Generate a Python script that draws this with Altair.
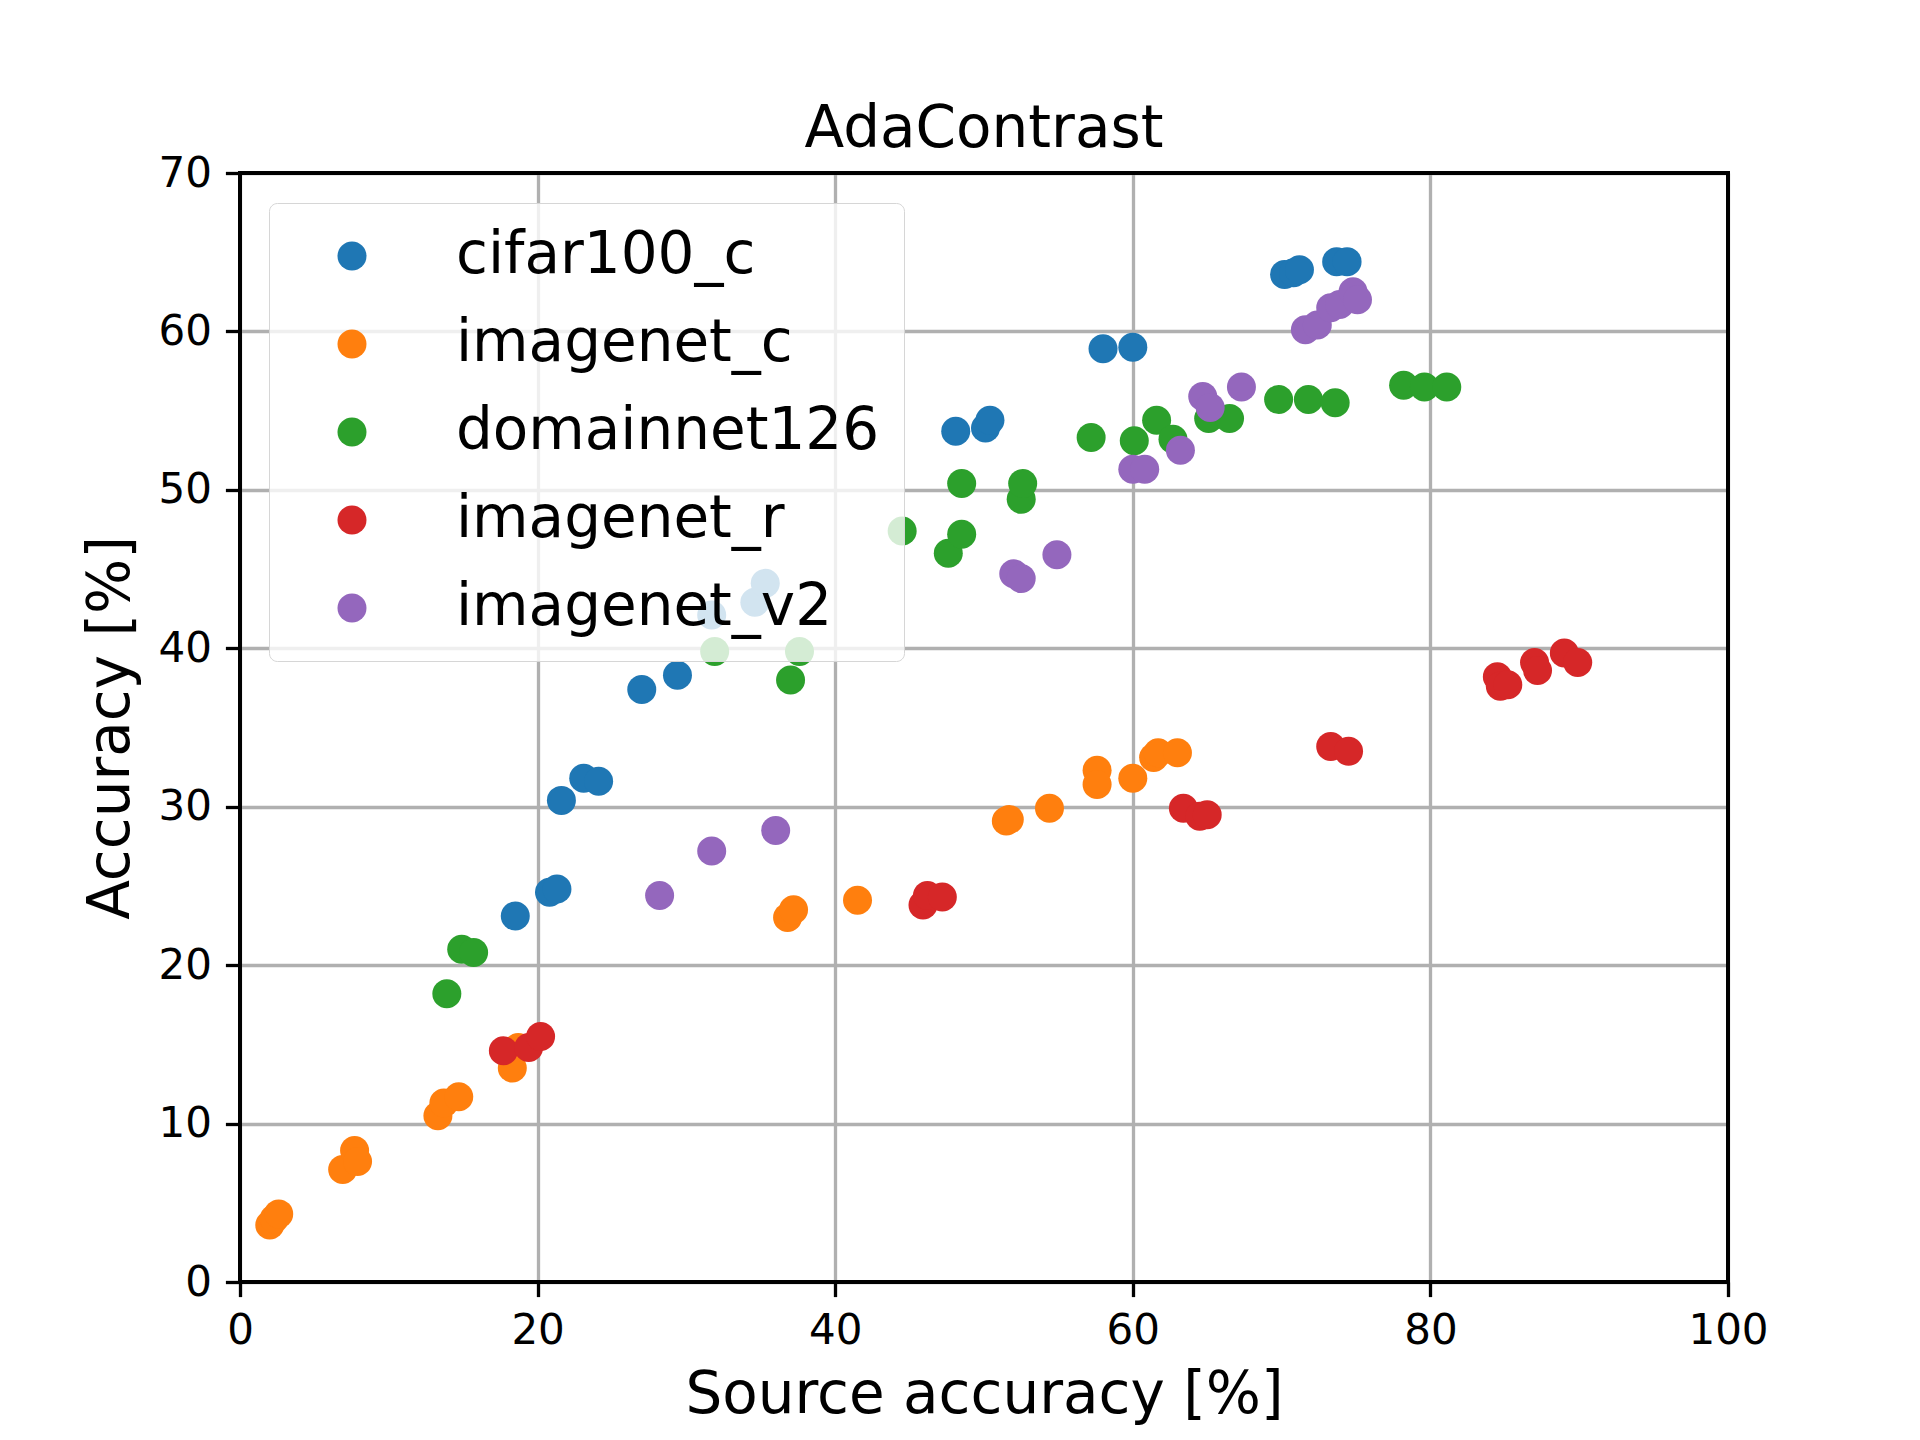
import altair as alt
import pandas as pd

series_names = ["cifar100_c", "imagenet_c", "domainnet126", "imagenet_r", "imagenet_v2"]
series_colors = ["#1f77b4", "#ff7f0e", "#2ca02c", "#d62728", "#9467bd"]

cifar100_c_x = [18.5, 20.8, 21.3, 21.6, 23.1, 24.1, 27.0, 29.4, 31.7, 34.6, 35.3, 48.1, 50.1, 50.4, 58.0, 60.0, 70.2, 70.8, 71.2, 73.7, 74.4]
cifar100_c_y = [23.1, 24.6, 24.8, 30.4, 31.8, 31.6, 37.4, 38.3, 42.1, 42.9, 44.1, 53.7, 53.9, 54.4, 58.9, 59.0, 63.6, 63.7, 63.9, 64.4, 64.4]

imagenet_c_x = [2.0, 2.3, 2.6, 6.9, 7.7, 7.9, 13.3, 13.7, 14.7, 18.3, 18.7, 36.8, 37.2, 41.5, 51.5, 51.7, 54.4, 57.6, 57.6, 60.0, 61.4, 61.7, 63.0]
imagenet_c_y = [3.6, 4.0, 4.3, 7.1, 8.3, 7.6, 10.5, 11.3, 11.7, 13.5, 14.8, 23.0, 23.5, 24.1, 29.1, 29.2, 29.9, 32.3, 31.4, 31.8, 33.1, 33.4, 33.4]

domainnet126_x = [13.9, 14.9, 15.7, 31.9, 37.0, 37.6, 44.5, 47.6, 48.5, 48.5, 52.5, 52.6, 57.2, 60.1, 61.6, 62.7, 65.1, 66.5, 69.8, 71.8, 73.6, 78.2, 79.6, 81.1]
domainnet126_y = [18.2, 21.0, 20.8, 39.8, 38.0, 39.8, 47.4, 46.0, 47.2, 50.4, 49.4, 50.4, 53.3, 53.1, 54.4, 53.2, 54.5, 54.5, 55.7, 55.7, 55.5, 56.6, 56.5, 56.5]

imagenet_r_x = [17.7, 19.4, 20.2, 45.9, 46.2, 47.2, 63.4, 64.5, 65.0, 73.3, 74.5, 84.5, 84.7, 85.2, 87.0, 87.2, 89.0, 89.9]
imagenet_r_y = [14.6, 14.8, 15.5, 23.8, 24.4, 24.3, 29.9, 29.4, 29.5, 33.8, 33.5, 38.2, 37.6, 37.7, 39.1, 38.6, 39.7, 39.1]

imagenet_v2_x = [28.2, 31.7, 36.0, 52.0, 52.5, 54.9, 60.0, 60.8, 63.2, 64.7, 65.2, 67.3, 71.6, 72.4, 73.3, 73.9, 74.8, 75.1]
imagenet_v2_y = [24.4, 27.2, 28.5, 44.7, 44.4, 45.9, 51.3, 51.3, 52.5, 55.9, 55.2, 56.5, 60.1, 60.4, 61.5, 61.7, 62.5, 62.0]

x_ticks = [0, 20, 40, 60, 80, 100]
y_ticks = [0, 10, 20, 30, 40, 50, 60, 70]

all_x = [cifar100_c_x, imagenet_c_x, domainnet126_x, imagenet_r_x, imagenet_v2_x]
all_y = [cifar100_c_y, imagenet_c_y, domainnet126_y, imagenet_r_y, imagenet_v2_y]

rows = []
for name, xs, ys in zip(series_names, all_x, all_y):
    for xv, yv in zip(xs, ys):
        rows.append({"dataset": name, "src": xv, "acc": yv})
df = pd.DataFrame(rows)

W, H = 1488, 1109
FONT = "DejaVu Sans"

points = alt.Chart(df).mark_circle(size=841, opacity=1).encode(
    x=alt.X("src:Q", title="Source accuracy [%]",
            scale=alt.Scale(domain=[0, 100], nice=False, zero=False),
            axis=alt.Axis(values=x_ticks, format="d", grid=True, domain=False,
                          tickSize=14.6, tickWidth=3.3, tickColor="black",
                          labelFontSize=42, labelFont=FONT, labelColor="black",
                          labelPadding=14, labelFlush=False,
                          titleFontSize=58, titleFont=FONT, titleFontWeight="normal",
                          titleColor="black", titleBaseline="alphabetic", titleY=130,
                          gridColor="#b0b0b0", gridWidth=3.3, gridOpacity=1)),
    y=alt.Y("acc:Q", title="Accuracy [%]",
            scale=alt.Scale(domain=[0, 70], nice=False, zero=False),
            axis=alt.Axis(values=y_ticks, format="d", grid=True, domain=False,
                          tickSize=14.6, tickWidth=3.3, tickColor="black",
                          labelFontSize=42, labelFont=FONT, labelColor="black",
                          labelPadding=14, labelFlush=False,
                          titleFontSize=58, titleFont=FONT, titleFontWeight="normal",
                          titleColor="black", titleBaseline="alphabetic", titleX=-112,
                          gridColor="#b0b0b0", gridWidth=3.3, gridOpacity=1)),
    color=alt.Color("dataset:N",
                    scale=alt.Scale(domain=series_names, range=series_colors),
                    legend=alt.Legend(title=None, orient="none", legendX=29, legendY=30,
                                      symbolType="circle", symbolSize=841,
                                      symbolStrokeWidth=0, symbolOpacity=1,
                                      symbolOffset=30, labelOffset=75,
                                      labelFontSize=58, labelFont=FONT, labelColor="black",
                                      labelLimit=0, padding=24, rowPadding=30,
                                      fillColor="rgba(255,255,255,0.8)",
                                      strokeColor="#d6d6d6",
                                      cornerRadius=8)),
)

frame = alt.Chart(df).mark_rect(fill=None, stroke="black", strokeWidth=3.3).encode(
    x=alt.value(0), x2=alt.value(W), y=alt.value(0), y2=alt.value(H)
)

chart = alt.layer(points, frame).properties(
    width=W, height=H,
    title=alt.TitleParams("AdaContrast", fontSize=58, font=FONT, fontWeight="normal",
                          color="black", anchor="middle", frame="group",
                          baseline="alphabetic", offset=25, dy=78),
    autosize=alt.AutoSizeParams(type="none"),
    padding={"left": 232, "top": 165, "right": 184, "bottom": 150},
).configure_view(stroke=None).configure_legend(
    strokeWidth=4
).configure(background="white")

chart.save("out.html", embed_options={"renderer": "svg", "actions": False})
